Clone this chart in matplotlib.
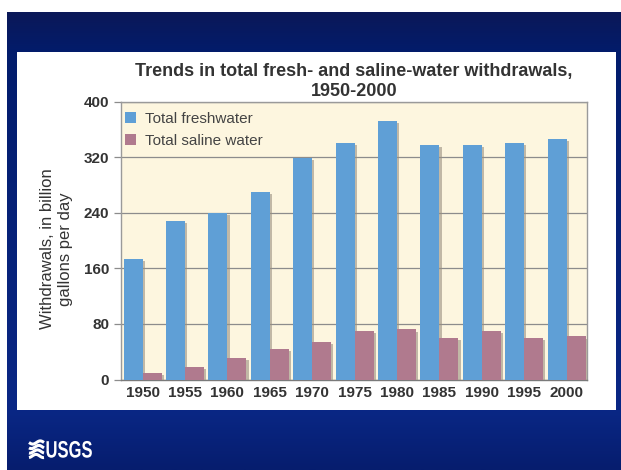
import numpy as np
import matplotlib
matplotlib.use("Agg")
from matplotlib import pyplot as plt
from matplotlib import patheffects
from matplotlib.colors import LinearSegmentedColormap
from matplotlib.textpath import TextPath
from matplotlib.patches import PathPatch
from matplotlib.font_manager import FontProperties
from matplotlib.transforms import Affine2D

plt.rcParams['font.family'] = ['Liberation Sans', 'DejaVu Sans']

# Data (billion gallons per day)
years = ['1950', '1955', '1960', '1965', '1970', '1975', '1980', '1985', '1990', '1995', '2000']
freshwater = [174, 228, 240, 270, 319, 341, 372, 338, 338, 340, 346]
saline = [10, 18, 31, 44, 54, 70, 72, 60, 70, 60, 62]
y_ticks = [0, 80, 160, 240, 320, 400]

W, H = 621, 470
fig = plt.figure(figsize=(W / 100, H / 100), dpi=100)
fig.patch.set_facecolor('white')

# Slide background: navy gradient with white strip on top/left
bg = fig.add_axes([7 / W, 0, 1 - 7 / W, 1 - 12 / H])
bg.set_axis_off()
grad = LinearSegmentedColormap.from_list('slide', [(0.0, '#0b1858'), (0.09, '#021c6c'),
                                                   (0.87, '#0a2785'), (1.0, '#061d6e')])
bg.imshow(np.linspace(0, 1, 256).reshape(-1, 1), aspect='auto', cmap=grad,
          extent=[0, 1, 0, 1], origin='upper')
bg.set_xlim(0, 1)
bg.set_ylim(0, 1)

# White panel holding the chart
panel = fig.add_axes([17 / W, 1 - 410 / H, (616 - 17) / W, (410 - 52) / H])
panel.set_axis_off()
panel.add_patch(plt.Rectangle((0, 0), 1, 1, transform=panel.transAxes, color='white'))

# Chart
ax = fig.add_axes([121 / W, 1 - 379.5 / H, 466 / W, 277.8 / H])
ax.set_facecolor('#fdf6df')
x = np.arange(len(years))
bw = 0.448
shadow = [patheffects.SimplePatchShadow(offset=(1.5, -1.5), shadow_rgbFace='#9a9080', alpha=0.6),
          patheffects.Normal()]
b1 = ax.bar(x - bw / 2, freshwater, bw, color='#5f9fd6', label='Total freshwater', zorder=3)
b2 = ax.bar(x + bw / 2, saline, bw, color='#b07a8e', label='Total saline water', zorder=3)

ax.set_xlim(-0.51, 10.48)
ax.set_ylim(0, 400)
ax.set_yticks(y_ticks)
ax.set_xticks(x)
ax.set_xticklabels(years)
ax.yaxis.grid(True, color='#8c8c8c', linewidth=0.9, zorder=0)
ax.set_axisbelow(True)
for s in ax.spines.values():
    s.set_color('#9a9a9a')
    s.set_linewidth(1.0)
ax.spines['bottom'].set_color('#7a7a7a')
ax.tick_params(axis='y', length=5, width=0.9, color='#8c8c8c', pad=3.5,
               labelsize=11, labelcolor='#333333')
ax.tick_params(axis='x', length=0, pad=5, labelsize=11, labelcolor='#333333')
for lab in ax.get_xticklabels() + ax.get_yticklabels():
    lab.set_fontweight('bold')

ax.set_ylabel('Withdrawals, in billion\ngallons per day', fontsize=12, color='#333333',
              linespacing=1.3)
ax.yaxis.set_label_coords(-0.102, 0.47)
ax.set_title('Trends in total fresh- and saline-water withdrawals,\n1950-2000',
             fontsize=13, fontweight='bold', color='#333333', pad=4, linespacing=1.26)

leg = ax.legend(loc='upper left', frameon=False, fontsize=11, handlelength=0.75,
                handleheight=0.75, handletextpad=0.55, labelspacing=0.55,
                borderaxespad=0.25, bbox_to_anchor=(-0.013, 1.0))
for t in leg.get_texts():
    t.set_color('#444444')

# bar shadows (after legend so the legend keys stay flat)
for p in list(b1) + list(b2):
    p.set_path_effects(shadow)

# USGS logo
logo = fig.add_axes([0, 0, 1, 1], facecolor='none')
logo.set_axis_off()
logo.set_xlim(0, W)
logo.set_ylim(H, 0)
wx = np.linspace(29, 44, 40)
for k, y0 in enumerate([442.5, 447, 451.5, 456]):
    logo.plot(wx, y0 + 1.6 * np.sin((wx - 29) / 15 * 2 * np.pi + k * 0.6), color='white',
              lw=2.2, solid_capstyle='butt')
tp = TextPath((0, 0), 'USGS', size=23.7, prop=FontProperties(family='Liberation Sans', weight='bold'))
tp = Affine2D().scale(0.70, -1).translate(45.5, 457.5).transform_path(tp)
logo.add_patch(PathPatch(tp, color='white', lw=0))

fig.savefig('out.png', dpi=100)
